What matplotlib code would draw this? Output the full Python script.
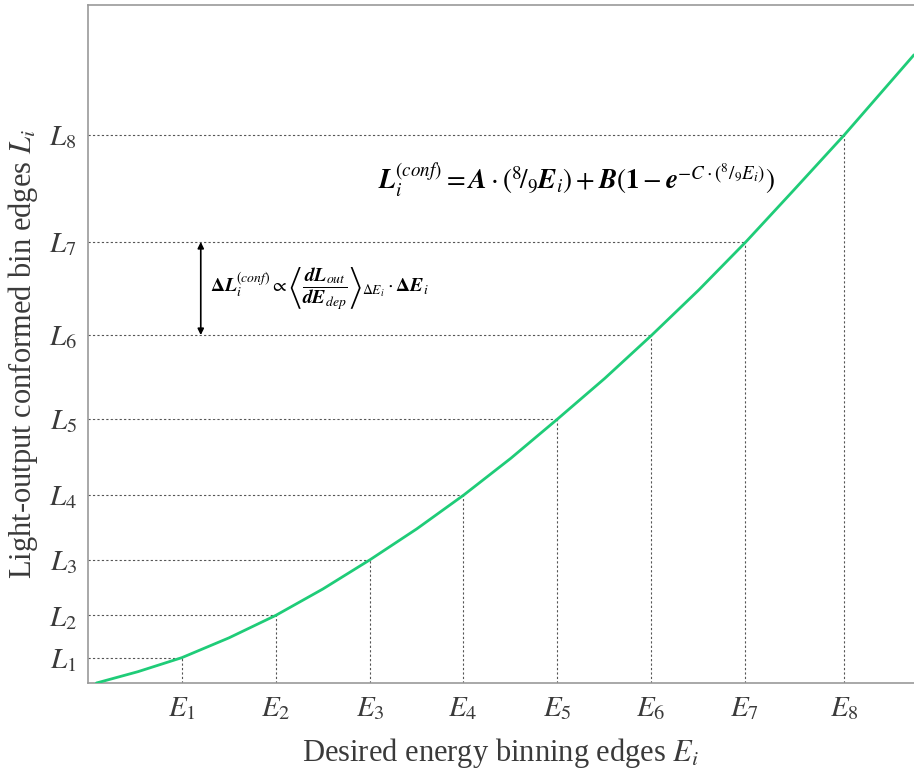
import matplotlib
matplotlib.use("Agg")
import matplotlib.pyplot as plt

plt.rcParams['mathtext.fontset'] = 'stix'
plt.rcParams['font.family'] = ['Liberation Serif', 'DejaVu Serif']

# Data
E_edges = [1.00, 2.00, 3.00, 3.99, 4.99, 5.99, 6.99, 8.05]
L_edges = [0.27, 0.72, 1.31, 2.00, 2.81, 3.70, 4.69, 5.83]
E_labels = [r'$E_{%d}$' % (i + 1) for i in range(8)]
L_labels = [r'$L_{%d}$' % (i + 1) for i in range(8)]

curve_x = [0.09, 0.53, 1.00, 1.50, 2.00, 2.50, 3.00, 3.50, 4.00, 4.50,
           5.00, 5.50, 6.00, 6.50, 7.00, 7.50, 8.05, 8.79]
curve_y = [0.00, 0.12, 0.27, 0.48, 0.72, 1.00, 1.31, 1.64, 2.00, 2.39,
           2.81, 3.24, 3.70, 4.18, 4.69, 5.23, 5.83, 6.68]

W, H = 914, 776
fig = plt.figure(figsize=(W / 100, H / 100), dpi=100)
ax = fig.add_axes([88 / W, (H - 683) / H, (W - 88) / W, 678 / H])
ax.set_xlim(0, 8.79)
ax.set_ylim(0, 7.21)

txt = '#3a3a3a'
grid_c = '#555555'
for e, l in zip(E_edges, L_edges):
    ax.plot([0, e], [l, l], color=grid_c, lw=0.8, dashes=(2, 2), zorder=1)
    ax.plot([e, e], [0, l], color=grid_c, lw=0.8, dashes=(2, 2), zorder=1)

ax.plot(curve_x, curve_y, color='#1fcc78', lw=2.0, solid_capstyle='round',
        solid_joinstyle='round', clip_on=True, zorder=3)

ax.set_xticks(E_edges)
ax.set_xticklabels(E_labels, fontsize=21, color=txt)
ax.set_yticks(L_edges)
ax.set_yticklabels(L_labels, fontsize=21, color=txt)
ax.tick_params(length=0, pad=8)
ax.tick_params(axis='x', pad=9)

for s in ['left', 'top', 'bottom']:
    ax.spines[s].set_color('#9a9a9a')
    ax.spines[s].set_linewidth(1.2)
ax.spines['right'].set_visible(False)

ax.set_xlabel(r'Desired energy binning edges $E_i$', fontsize=22, color=txt,
              labelpad=10)
ax.set_ylabel(r'Light-output conformed bin edges $L_i$', fontsize=22,
              color=txt, labelpad=6)
ax.yaxis.set_label_coords(-0.058, 0.485)

# Double arrow between L6 and L7
ax.annotate('', xy=(1.20, L_edges[6]), xytext=(1.20, L_edges[5]),
            arrowprops=dict(arrowstyle='<|-|>', color='black', lw=1.2,
                            mutation_scale=9, shrinkA=0, shrinkB=0))

ax.text(1.30, (L_edges[5] + L_edges[6]) / 2,
        r'$\mathbf{\Delta} \mathbfit{L}_i^{(conf)} \propto '
        r'\left\langle \dfrac{\mathbfit{dL}_{out}}{\mathbfit{dE}_{dep}} \right\rangle_{\Delta E_i}'
        r'\cdot \mathbf{\Delta} \mathbfit{E}_i$',
        fontsize=14, color='black', va='center', ha='left')

ax.text(5.2, 5.35,
        r'$\mathbfit{L}_i^{(conf)} = \mathbfit{A}\cdot({}^{8}\!/_{9}\mathbfit{E}_i) + '
        r'\mathbfit{B}(\mathbf{1}-\mathbfit{e}^{-C\cdot({}^{8}/_{9}E_i)})$',
        fontsize=19.5, color='black', va='center', ha='center')

fig.savefig('out.png', dpi=100)
